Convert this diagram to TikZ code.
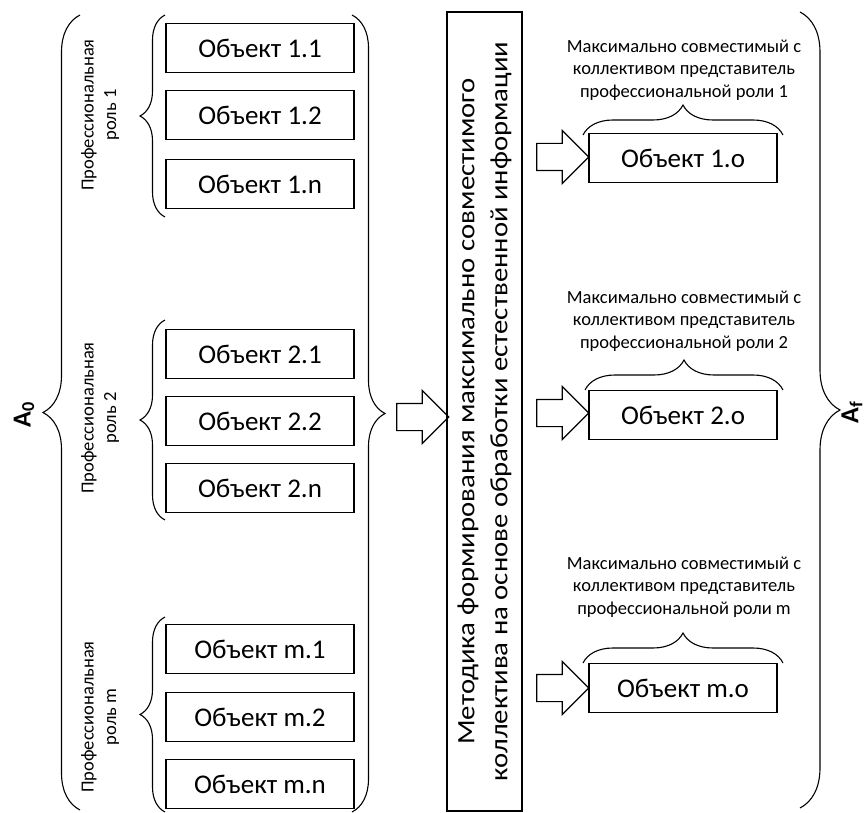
\documentclass[tikz,border=0pt]{standalone}
\usepackage{fontspec}
\setmainfont{Carlito}
\newfontfamily\metfont[FakeStretch=1.15]{Carlito}
\usetikzlibrary{decorations.pathreplacing,shapes.arrows}
\tikzset{
    obj/.style={draw,line width=1.2pt,minimum width=188pt,minimum height=49pt,inner sep=0pt,font=\fontsize{27}{32}\selectfont},
    role/.style={rotate=90,align=center,font=\fontsize{18.5}{22.5}\selectfont},
    note/.style={align=center,font=\fontsize{18.5}{22.5}\selectfont},
    brc/.style={decorate,line width=1.1pt,decoration={brace,amplitude=#1}},
    blk/.style={single arrow,draw,line width=1.2pt,minimum height=52pt,inner sep=13pt,single arrow head extend=13pt},
    bigA/.style={rotate=90,inner sep=0pt,font=\fontsize{26}{30}\selectfont\bfseries}
}
\begin{document}
\begin{tikzpicture}[x=1pt,y=-1pt]
        \useasboundingbox(0,0)rectangle(868,813);
        \node[bigA](a0)at(24,415){A\textsubscript{0}};
        \draw[brc=37pt](80,810)--(80,15);
        \node[role](r1)at(100,115){Профессиональная\\роль 1};
        \node[role](r2)at(100,418){Профессиональная\\роль 2};
        \node[role](rm)at(100,717){Профессиональная\\роль m};
        \draw[brc=25pt](165,217)--(165,15);
        \draw[brc=25pt](165,520)--(165,320);
        \draw[brc=25pt](165,812)--(165,617);
        \node[obj](11)at(260,48){Объект 1.1};
        \node[obj](12)at(260,115){Объект 1.2};
        \node[obj](1n)at(260,184){Объект 1.n};
        \node[obj](21)at(260,354){Объект 2.1};
        \node[obj](22)at(260,421){Объект 2.2};
        \node[obj](2n)at(260,488){Объект 2.n};
        \node[obj](m1)at(260,649){Объект m.1};
        \node[obj](m2)at(260,717){Объект m.2};
        \node[obj](mn)at(260,784){Объект m.n};
        \draw[brc=33pt](352,15)--(352,812);
        \node[blk](ar)at(416,417){};
        \node[draw,line width=1.2pt,rotate=90,minimum width=799pt,minimum height=75pt,align=center,font=\metfont\fontsize{25}{33}\selectfont](met)at(484.5,411.5){Методика формирования максимально совместимого\\коллектива на основе обработки естественной информации};
        \node[note](t1)at(684,70){Максимально совместимый с\\коллективом представитель\\профессиональной роли 1};
        \node[note](t2)at(684,321){Максимально совместимый с\\коллективом представитель\\профессиональной роли 2};
        \node[note](tm)at(684,587){Максимально совместимый с\\коллективом представитель\\профессиональной роли m};
        \draw[brc=30pt](583,135)--(783,135);
        \draw[brc=30pt](585,390)--(783,390);
        \draw[brc=30pt](583,663)--(783,663);
        \node[blk](a1)at(556,157){};
        \node[blk](a2)at(556,413){};
        \node[blk](am)at(556,688){};
        \node[obj](1o)at(683,158){Объект 1.o};
        \node[obj](2o)at(683,415){Объект 2.o};
        \node[obj](mo)at(683,688){Объект m.o};
        \draw[brc=40pt](800,12)--(800,808);
        \node[bigA](af)at(852,412){A\textsubscript{f}};
\end{tikzpicture}
\end{document}
